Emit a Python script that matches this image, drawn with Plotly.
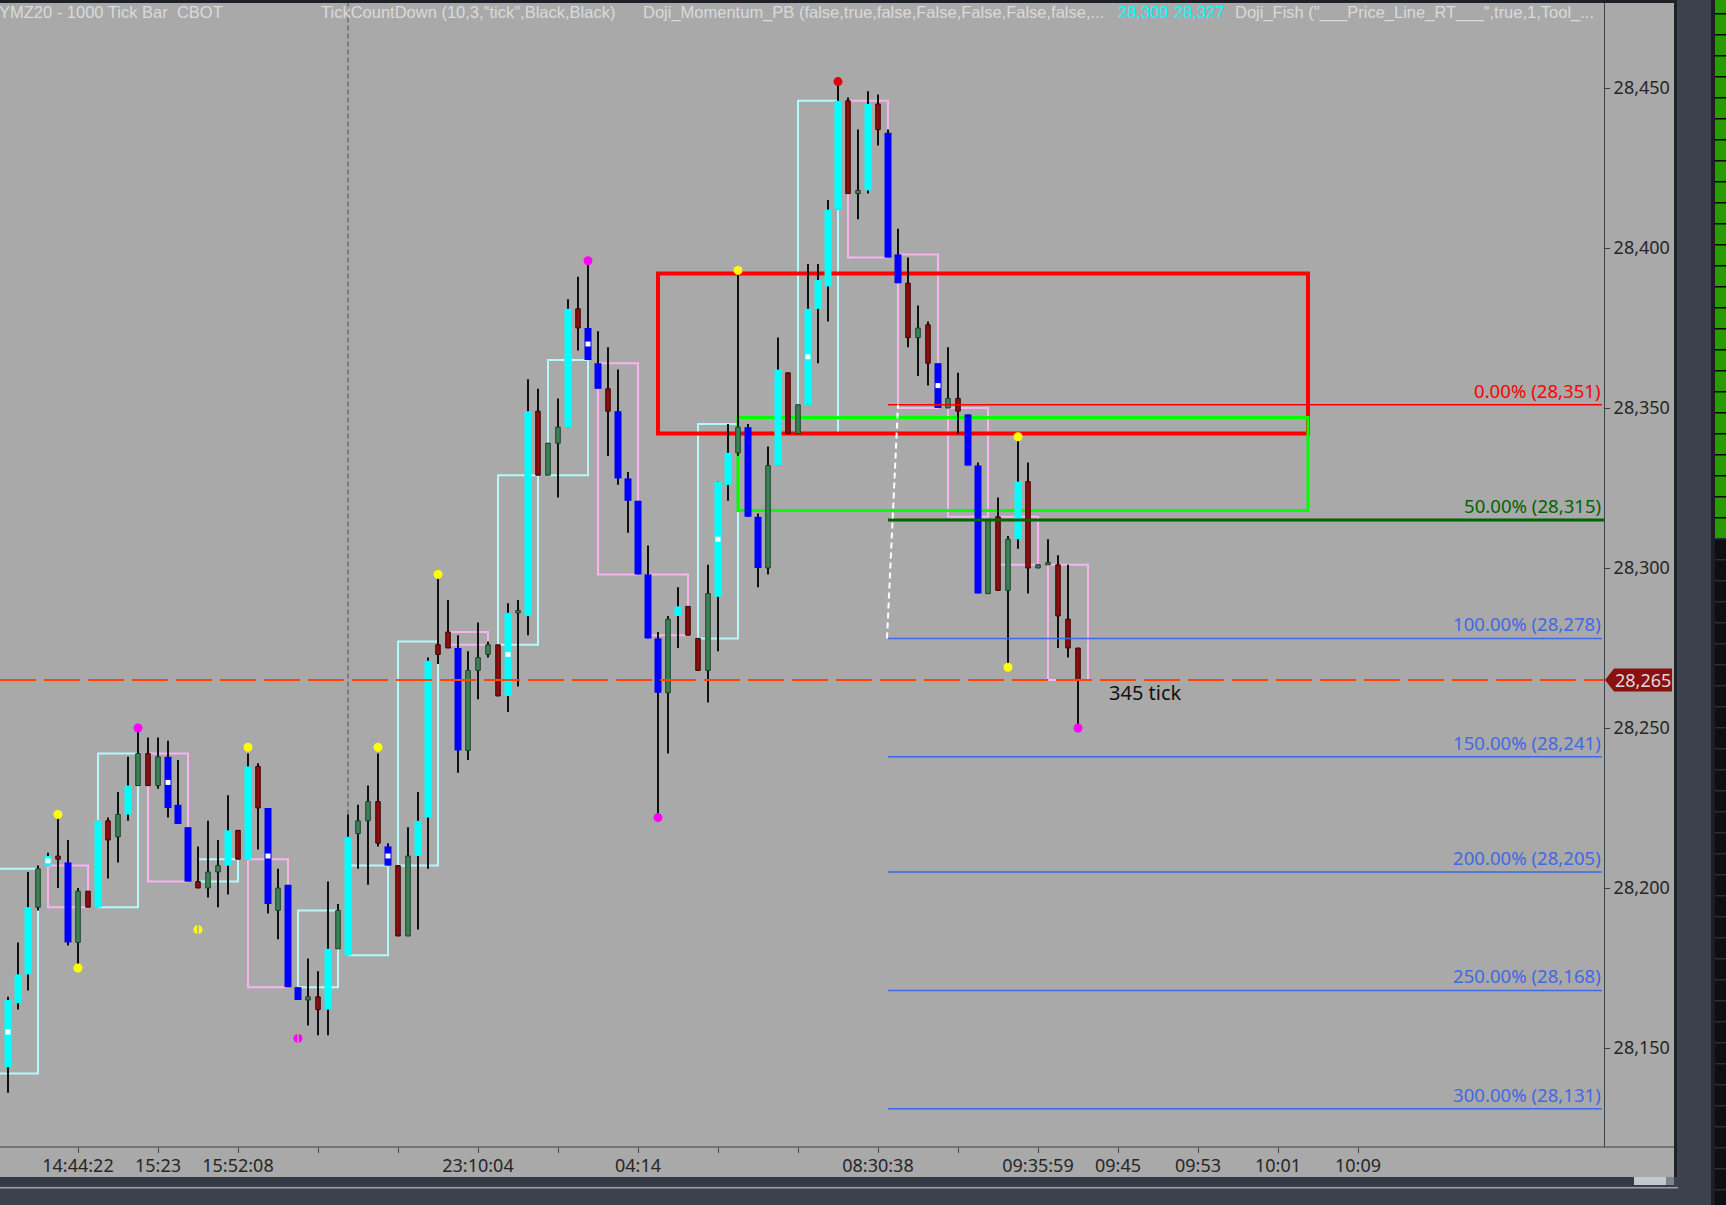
import plotly.graph_objects as go

# ---------------- data ----------------
bar_type = list("cccgcrbgrc" "rgcgrgbbbr" "ggcrcrbgbb" "grcgcggrbr" "gccrrbgggr"
                "cgcrggcrbb" "rbbbbbgcrr" "gccgbbgcrg" "ccccrgcrbb" "rgrbgrbbgr" "gcrggrrr")

opens = [28144, 28164, 28173, 28194, 28207, 28210, 28208, 28183, 28199, 28194,
         28221, 28216, 28223, 28232, 28242, 28232, 28241, 28226, 28219, 28202,
         28200, 28205, 28207, 28218, 28209, 28238, 28225, 28193, 28201, 28169,
         28165, 28166, 28162, 28181, 28179, 28217, 28221, 28227, 28213, 28207,
         28185, 28210, 28222, 28276, 28280, 28275, 28243, 28268, 28273, 28276,
         28260, 28286, 28285, 28349, 28329, 28339, 28344, 28381, 28375, 28364,
         28356, 28349, 28328, 28321, 28298, 28278, 28261, 28285, 28288, 28278,
         28268, 28291, 28326, 28336, 28344, 28316, 28300, 28332, 28361, 28342,
         28351, 28381, 28388, 28412, 28446, 28417, 28418, 28445, 28436, 28398,
         28389, 28372, 28376, 28364, 28350, 28353, 28348, 28332, 28292, 28316,
         28293, 28309, 28327, 28300, 28301, 28301, 28284, 28275]
highs = [28166, 28183, 28205, 28207, 28211, 28223, 28215, 28200, 28199, 28221,
         28222, 28230, 28241, 28249, 28247, 28247, 28246, 28240, 28219, 28213,
         28221, 28215, 28229, 28218, 28242, 28239, 28225, 28206, 28201, 28169,
         28178, 28174, 28202, 28195, 28223, 28226, 28232, 28242, 28214, 28207,
         28219, 28230, 28272, 28297, 28290, 28279, 28274, 28283, 28277, 28276,
         28289, 28290, 28359, 28356, 28339, 28353, 28384, 28391, 28396, 28374,
         28369, 28362, 28330, 28321, 28307, 28280, 28285, 28294, 28288, 28278,
         28301, 28327, 28345, 28392, 28345, 28317, 28338, 28372, 28361, 28351,
         28395, 28395, 28415, 28451, 28447, 28437, 28449, 28448, 28437, 28406,
         28397, 28382, 28377, 28364, 28369, 28361, 28348, 28333, 28315, 28322,
         28310, 28341, 28333, 28301, 28309, 28304, 28301, 28275]
lows = [28136, 28162, 28168, 28193, 28207, 28200, 28182, 28175, 28194, 28194,
        28203, 28208, 28221, 28232, 28232, 28231, 28222, 28220, 28202, 28200,
        28197, 28194, 28198, 28209, 28209, 28212, 28192, 28184, 28169, 28165,
        28157, 28154, 28154, 28181, 28179, 28206, 28201, 28213, 28207, 28185,
        28185, 28187, 28206, 28270, 28275, 28236, 28240, 28259, 28272, 28260,
        28255, 28263, 28279, 28329, 28329, 28322, 28344, 28368, 28365, 28356,
        28335, 28326, 28311, 28298, 28278, 28222, 28242, 28275, 28279, 28268,
        28258, 28274, 28321, 28335, 28316, 28294, 28298, 28332, 28342, 28342,
        28351, 28364, 28377, 28412, 28417, 28409, 28417, 28432, 28397, 28389,
        28369, 28360, 28357, 28350, 28350, 28342, 28332, 28292, 28292, 28293,
        28270, 28306, 28292, 28300, 28301, 28275, 28272, 28250]
closes = [28165, 28173, 28194, 28206, 28210, 28209, 28183, 28199, 28194, 28221,
          28215, 28223, 28232, 28242, 28232, 28241, 28225, 28220, 28202, 28200,
          28205, 28207, 28218, 28209, 28238, 28225, 28195, 28200, 28169, 28165,
          28166, 28162, 28181, 28193, 28216, 28221, 28227, 28214, 28207, 28185,
          28210, 28221, 28271, 28273, 28275, 28243, 28268, 28272, 28276, 28260,
          28286, 28286, 28349, 28329, 28339, 28344, 28381, 28375, 28365, 28356,
          28349, 28328, 28321, 28298, 28278, 28261, 28284, 28288, 28279, 28268,
          28292, 28327, 28336, 28344, 28316, 28300, 28332, 28362, 28342, 28351,
          28381, 28390, 28412, 28446, 28417, 28418, 28445, 28437, 28397, 28389,
          28372, 28375, 28364, 28350, 28353, 28349, 28332, 28292, 28315, 28293,
          28309, 28327, 28300, 28301, 28301, 28285, 28275, 28265]

yellow_dot_bars = [5, 7, 19, 24, 37, 43, 73, 100, 101]
yellow_dot_prices = [28223, 28175, 28187, 28244, 28244, 28298, 28393, 28269, 28341]
magenta_dot_bars = [13, 29, 58, 65, 107]
magenta_dot_prices = [28250, 28153, 28396, 28222, 28250]
red_dot_bars = [83]
red_dot_prices = [28452]
split_dot_bars = [19, 29]
split_dot_prices = [28187, 28153]
white_mark_bars = [0, 4, 16, 26, 38, 50, 58, 71, 80, 93]
white_mark_prices = [28155, 28208.5, 28233, 28210, 28210, 28273, 28370, 28309, 28366, 28357]

box_start = [-1, 9, 19, 29, 34, 39, 49, 54, 69, 79,
             4, 14, 24, 44, 59, 64, 84, 89, 94, 99, 104]
box_end = [3, 13, 23, 33, 38, 43, 53, 58, 73, 83,
           8, 18, 28, 48, 63, 68, 88, 93, 98, 103, 108]
box_top = [28206, 28242, 28209, 28193, 28207, 28277, 28329, 28365, 28345, 28446,
           28207, 28242, 28209, 28280, 28364, 28298, 28446, 28398, 28350, 28316, 28301]
box_bottom = [28142, 28194, 28202, 28169, 28179, 28207, 28276, 28329, 28278, 28342,
              28194, 28202, 28169, 28276, 28298, 28279, 28397, 28350, 28316, 28301, 28265]
box_kind = list("cccccccccc" "ppppppppppp")

red_zone_bars = [65, 130]
red_zone_prices = [28392, 28342]
green_zone_bars = [73, 130]
green_zone_prices = [28347, 28318]

fib_pcts = [0, 50, 100, 150, 200, 250, 300]
fib_prices = [28351, 28315, 28278, 28241, 28205, 28168, 28131]
fib_start_bar = 88
fib_anchor_bars = [87.9, 89.0]

last_price = 28265
tick_count_text = "345 tick"
session_break_bar = 34

tick_bars = [7, 15, 23, 31, 39, 47, 55, 63, 71, 79, 87, 95, 103, 111, 119, 127, 135]
tick_labels = ["14:44:22", "15:23", "15:52:08", "", "", "23:10:04", "", "04:14", "", "",
               "08:30:38", "", "09:35:59", "09:45", "09:53", "10:01", "10:09"]
price_ticks = [28150, 28200, 28250, 28300, 28350, 28400, 28450]

header_texts = ["YMZ20 - 1000 Tick Bar\u00a0\u00a0CBOT",
                "TickCountDown (10,3,\"tick\",Black,Black)",
                "Doji_Momentum_PB (false,true,false,False,False,False,false,...",
                "28,309", "28,327",
                "Doji_Fish (\"___Price_Line_RT___\",true,1,Tool_..."]
header_colors = ["#dadada", "#dadada", "#dadada", "#00ffff", "#00ffff", "#dadada"]
header_px = [-3, 319, 641, 1116, 1172, 1233]

# ---------------- layout geometry ----------------
W, H = 1726, 1205
PL, PR, PT, PB = 0, 1604, 3, 1147          # plot area in pixels
X_RANGE = [-0.8, 159.6]
Y_RANGE = [28119.0625, 28476.5625]
BG = "#a9a9a9"
SLATE = "#3b424c"


def pxx(px):
    return (px - PL) / (PR - PL)


def pxy(py):
    return (PB - py) / (PB - PT)


def price_py(p):
    return PB - (p - Y_RANGE[0]) / (Y_RANGE[1] - Y_RANGE[0]) * (PB - PT)


def px_bar(px):
    return X_RANGE[0] + (px - PL) / (PR - PL) * (X_RANGE[1] - X_RANGE[0])


fig = go.Figure()

n = len(closes)
bars = list(range(n))

# wicks (as thin bars so that bodies are drawn on top of them)
fig.add_trace(go.Bar(x=bars, base=lows, y=[h - l for h, l in zip(highs, lows)],
                     width=0.2, marker=dict(color="#101010", line=dict(width=0)),
                     hoverinfo="skip"))

styles = {
    "c": dict(fill="#00ffff", line="#00ffff", w=0.7, lw=0),
    "b": dict(fill="#0000ff", line="#0000ff", w=0.7, lw=0),
    "g": dict(fill="#3b8257", line="#1a3f27", w=0.45, lw=1),
    "r": dict(fill="#8b0f0f", line="#3e0202", w=0.45, lw=1),
}
for k, st in styles.items():
    idx = [i for i in bars if bar_type[i] == k]
    fig.add_trace(go.Bar(
        x=idx,
        base=[min(opens[i], closes[i]) for i in idx],
        y=[max(abs(closes[i] - opens[i]), 0.7) for i in idx],
        width=st["w"], opacity=1,
        marker=dict(color=st["fill"], line=dict(color=st["line"], width=st["lw"])),
        hoverinfo="skip"))

# white marks
fig.add_trace(go.Scatter(x=white_mark_bars, y=white_mark_prices, mode="markers",
                         marker=dict(symbol="square", size=5, color="white", line=dict(width=0)),
                         hoverinfo="skip"))
# dots
for bx, by, col in [(yellow_dot_bars, yellow_dot_prices, "#ffff00"),
                    (magenta_dot_bars, magenta_dot_prices, "#ff00ff"),
                    (red_dot_bars, red_dot_prices, "#e00000")]:
    fig.add_trace(go.Scatter(x=bx, y=by, mode="markers",
                             marker=dict(size=9, color=col, line=dict(width=0)),
                             hoverinfo="skip"))
fig.add_trace(go.Scatter(x=split_dot_bars, y=split_dot_prices, mode="markers",
                         marker=dict(symbol="line-ns", size=9, line=dict(color=BG, width=1.5)),
                         hoverinfo="skip"))

shapes = []
# session break (drawn from the top down to the bar's high)
shapes.append(dict(type="line", xref="x", yref="y", x0=session_break_bar, x1=session_break_bar,
                   y0=highs[session_break_bar], y1=Y_RANGE[1],
                   line=dict(color="#4b505a", width=1, dash="5px,3px"), layer="below"))
# boxes
for s, e, t, b, k in zip(box_start, box_end, box_top, box_bottom, box_kind):
    shapes.append(dict(type="rect", xref="x", yref="y", x0=s, x1=e, y0=b, y1=t,
                       line=dict(color="#b4fafa" if k == "c" else "#f8b4ee", width=2),
                       layer="below"))
# zones
shapes.append(dict(type="rect", xref="x", yref="y", x0=red_zone_bars[0], x1=red_zone_bars[1],
                   y0=red_zone_prices[1], y1=red_zone_prices[0],
                   line=dict(color="#ff0000", width=4), layer="below"))
shapes.append(dict(type="rect", xref="x", yref="y", x0=green_zone_bars[0], x1=green_zone_bars[1],
                   y0=green_zone_prices[1], y1=green_zone_prices[0],
                   line=dict(color="#00ff00", width=3), layer="below"))

# fib
fib_end = px_bar(1602)
fib_colors = ["#ff0000", "#006400"] + ["#4169e1"] * 5
fib_widths = [1.5, 3, 1.5, 1.5, 1.5, 1.5, 1.5]
for p, col, lw in zip(fib_prices, fib_colors, fib_widths):
    shapes.append(dict(type="line", xref="x", yref="y", x0=fib_start_bar,
                       x1=fib_end if col != "#006400" else X_RANGE[1],
                       y0=p, y1=p, line=dict(color=col, width=lw), layer="above"))
shapes.append(dict(type="line", xref="x", yref="y", x0=fib_anchor_bars[0], x1=fib_anchor_bars[1],
                   y0=fib_prices[2], y1=fib_prices[0],
                   line=dict(color="#ffffff", width=2, dash="6px,4px"), layer="above"))
# last price line
shapes.append(dict(type="line", xref="paper", yref="y", x0=0, x1=1, y0=last_price, y1=last_price,
                   line=dict(color="#ff4500", width=2, dash="36px,8px"), layer="above"))


def rect_px(x0, y0, x1, y1, color):
    return dict(type="rect", xref="paper", yref="paper", x0=pxx(x0), x1=pxx(x1),
                y0=pxy(y1), y1=pxy(y0), fillcolor=color, line=dict(width=0), layer="above")


# frame / chrome
shapes.append(rect_px(0, 0, 1677, PT, "#1e2128"))
shapes.append(rect_px(1674, 0, 1677, 1188, "#1e2128"))
shapes.append(rect_px(1677, 0, 1711, H, SLATE))
shapes.append(rect_px(1711, 0, 1715, H, "#1b1e24"))
shapes.append(rect_px(1715, 0, W, 538, "#279a04"))
shapes.append(rect_px(1715, 538, W, H, "#0e0f12"))
yy = 13
while yy < H:
    shapes.append(rect_px(1715, yy, W, yy + 1.5, "#000000" if yy < 538 else "#2a2d33"))
    yy += 21
shapes.append(rect_px(0, 1177, 1677, H, SLATE))
shapes.append(rect_px(0, 1177, 1674, 1186, "#353b44"))
shapes.append(rect_px(1634, 1177, 1666, 1185, "#c3c7ce"))
shapes.append(rect_px(1666, 1177, 1674, 1185, "#7d8592"))
shapes.append(rect_px(0, 1187, 1678, 1188.5, "#9ba1a9"))
shapes.append(dict(type="line", xref="paper", yref="paper", x0=0, x1=pxx(1674), y0=0, y1=0,
                   line=dict(color=SLATE, width=1), layer="above"))

# price tag
yc = pxy(price_py(last_price))
hh = 11.5 / (PB - PT)
path = "M {a},{yc} L {b},{t} L {c},{t} L {c},{bt} L {b},{bt} Z".format(
    a=pxx(1605), b=pxx(1614), c=pxx(1672), yc=yc, t=yc + hh, bt=yc - hh)
shapes.append(dict(type="path", xref="paper", yref="paper", path=path,
                   fillcolor="#8b1111", line=dict(width=0), layer="above"))

annotations = []
for p, pct, col in zip(fib_prices, fib_pcts, fib_colors):
    annotations.append(dict(xref="paper", yref="y", x=pxx(1603), y=p, xanchor="right", yanchor="bottom",
                            text=f"{pct:.2f}% ({p:,})", showarrow=False,
                            font=dict(family="Noto Sans", size=18.6, color=col), yshift=0))
annotations.append(dict(xref="x", yref="y", x=n + 1.9, y=last_price - 4, xanchor="left", yanchor="middle",
                        text=tick_count_text, showarrow=False,
                        font=dict(family="Noto Sans", size=20, color="#111111")))
annotations.append(dict(xref="paper", yref="y", x=pxx(1643), y=last_price, xanchor="center",
                        yanchor="middle", text=f"{last_price:,}", showarrow=False,
                        font=dict(family="Noto Sans", size=18, color="#dcdcdc")))
for txt, col, px in zip(header_texts, header_colors, header_px):
    annotations.append(dict(xref="paper", yref="paper", x=pxx(px), y=pxy(12), xanchor="left",
                            yanchor="middle", text=txt, showarrow=False,
                            font=dict(family="Liberation Sans", size=16.5, color=col)))

fig.update_layout(
    width=W, height=H,
    margin=dict(l=PL, r=W - PR, t=PT, b=H - PB, pad=0),
    paper_bgcolor=BG, plot_bgcolor=BG,
    showlegend=False, barmode="overlay", hovermode=False,
    shapes=shapes, annotations=annotations,
    xaxis=dict(range=X_RANGE, showgrid=False, zeroline=False, showline=False,
               tickmode="array", tickvals=tick_bars, ticktext=tick_labels,
               ticks="outside", ticklen=5, tickcolor=SLATE, automargin=False,
               ticklabelstandoff=-3,
               tickfont=dict(family="Noto Sans", size=18, color="#262626"), fixedrange=True),
    yaxis=dict(range=Y_RANGE, side="right", showgrid=False, zeroline=False,
               showline=True, linecolor=SLATE, linewidth=1,
               tickmode="array", tickvals=price_ticks, ticktext=[f"{v:,}" for v in price_ticks],
               ticks="outside", ticklen=5, tickcolor=SLATE, automargin=False,
               tickfont=dict(family="Noto Sans", size=18, color="#262626"), fixedrange=True),
)

fig.write_html("out.html", config={"displayModeBar": False},
               post_script="document.body.style.margin='0';document.body.style.overflow='hidden';")
